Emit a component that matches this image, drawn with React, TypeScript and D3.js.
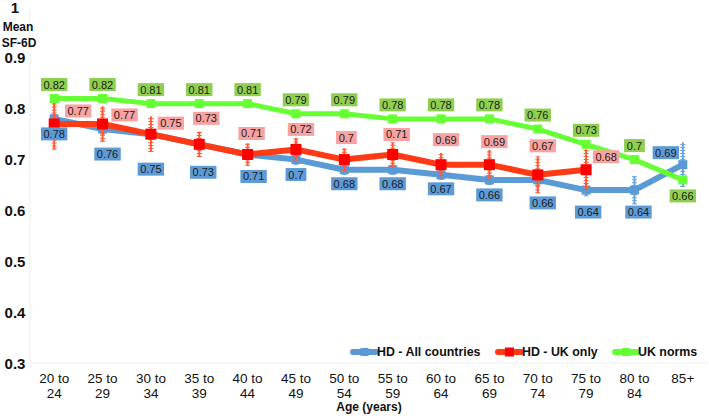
import React from "react";
import * as d3 from "d3";

const categories = ["20 to|24","25 to|29","30 to|34","35 to|39","40 to|44","45 to|49","50 to|54","55 to|59","60 to|64","65 to|69","70 to|74","75 to|79","80 to|84","85+"];
const hdAll = [0.78,0.76,0.75,0.73,0.71,0.70,0.68,0.68,0.67,0.66,0.66,0.64,0.64,0.69];
const hdAllErr = [0.01,0.01,0.01,0.01,0.01,0.01,0.01,0.01,0.01,0.01,0.012,0.012,0.028,0.044];
const hdUk: (number|null)[] = [0.77,0.77,0.75,0.73,0.71,0.72,0.70,0.71,0.69,0.69,0.67,0.68,null,null];
const hdUkErr = [0.05,0.035,0.035,0.025,0.022,0.022,0.022,0.024,0.023,0.029,0.036,0.04];
const ukNorms = [0.82,0.82,0.81,0.81,0.81,0.79,0.79,0.78,0.78,0.78,0.76,0.73,0.70,0.66];
const yTicks = [0.3,0.4,0.5,0.6,0.7,0.8,0.9,1];

// label nudges (layout only, in px)
const blueNudge = [[0,15],[5,25],[0,35],[4,28],[6,22],[0,15],[0,14],[0,14],[0,14],[0,15],[5,23],[2,22],[4,22],[-17,-12]];
const redNudge = [[24,-13],[22,-9],[20,-11],[7,-26],[4,-21],[5,-20],[2,-22],[4,-20],[5,-25],[5,-23],[5,-29],[20,-13]];
const greenNudge = [[0,-14],[0,-14],[0,-14],[0,-14],[0,-14],[0,-14],[0,-14],[0,-14],[0,-14],[0,-14],[0,-14],[0,-14],[0,-14],[0,16]];

const W = 709, H = 419;
const FONT = "'Liberation Sans', Arial, sans-serif";
const BLUE = "#5b9bd5", RED_LINE = "#ff3a14", RED_MK = "#ff0000", GREEN = "#66ff33";
const RED_ERR = "#ff5a36", BLUE_ERR = "#6aa5dc";
const BLUE_BOX = "#5e9bd6", RED_BOX = "#f8a2a2", GREEN_BOX = "#8fcf4f";

function fmt(v: number) { return String(+v.toFixed(2)); }

function Label({ x, y, v, fill }: { x: number; y: number; v: number; fill: string }) {
  const t = fmt(v);
  const w = t.length * 5.6 + 4;
  return (
    <g>
      <rect x={x - w / 2} y={y - 6.5} width={w} height={13} fill={fill} />
      <text x={x} y={y} textAnchor="middle" dominantBaseline="central" fontSize={11} fill="#1c1c1c" fontFamily={FONT}>{t}</text>
    </g>
  );
}

function ErrBar({ x, y1, y2, color }: { x: number; y1: number; y2: number; color: string }) {
  return (
    <g>
      <line x1={x} x2={x} y1={y1} y2={y2} stroke={color} strokeWidth={2} />
      <line x1={x} x2={x} y1={y1} y2={y2} stroke={color} strokeWidth={5} strokeDasharray="1 2" />
    </g>
  );
}

export default function App() {
  const x = d3.scaleBand<string>().domain(categories).range([30, 707]);
  const cx = (i: number) => (x(categories[i]) as number) + x.bandwidth() / 2;
  const y = d3.scaleLinear().domain([0.3, 1]).range([363, 7]);

  const line = d3.line<[number, number]>().x(d => d[0]).y(d => d[1]);
  const bluePts: [number, number][] = hdAll.map((v, i) => [cx(i), y(v)]);
  const redPts: [number, number][] = hdUk.flatMap((v, i) => (v == null ? [] : [[cx(i), y(v)] as [number, number]]));
  const greenPts: [number, number][] = ukNorms.map((v, i) => [cx(i), y(v)]);

  const legend = [
    { x0: 353, x1: 376, label: "HD - All countries", color: BLUE, mk: BLUE, ms: 8 },
    { x0: 498, x1: 521, label: "HD - UK only", color: RED_LINE, mk: RED_MK, ms: 9 },
    { x0: 615, x1: 637, label: "UK norms", color: GREEN, mk: GREEN, ms: 8 },
  ];

  return (
    <svg width={W} height={H} style={{ position: "fixed", left: 0, top: 0, background: "#fff" }} fontFamily={FONT}>
      <rect width={W} height={H} fill="#fff" />
      {/* axes */}
      <line x1={30} x2={30} y1={7} y2={363} stroke="#eeeeee" strokeWidth={1} />
      <line x1={30} x2={707} y1={363} y2={363} stroke="#eeeeee" strokeWidth={1} />
      {yTicks.map(t => (
        <text key={t} x={15} y={y(t)} textAnchor="middle" dominantBaseline="central" fontSize={15} fontWeight="bold" fill="#111">{fmt(t)}</text>
      ))}
      <text x={18} y={27} textAnchor="middle" dominantBaseline="central" fontSize={12} fontWeight="bold" fill="#111">Mean</text>
      <text x={19} y={43} textAnchor="middle" dominantBaseline="central" fontSize={12} fontWeight="bold" fill="#111">SF-6D</text>
      {categories.map((c, i) => {
        const parts = c.split("|");
        return (
          <text key={c} x={cx(i)} textAnchor="middle" fontSize={13.5} fill="#111">
            {parts.map((p, j) => (
              <tspan key={j} x={cx(i)} y={383 + j * 15}>{p}</tspan>
            ))}
          </text>
        );
      })}
      <text x={369} y={411} textAnchor="middle" fontSize={12} fontWeight="bold" fill="#111">Age (years)</text>

      {/* blue series */}
      {hdAll.map((v, i) => (
        <ErrBar key={"be" + i} x={cx(i)} y1={y(v - hdAllErr[i])} y2={y(v + hdAllErr[i])} color={BLUE_ERR} />
      ))}
      <path d={line(bluePts) || ""} fill="none" stroke={BLUE} strokeWidth={6} strokeLinejoin="round" />
      {bluePts.map((p, i) => (
        <rect key={"bm" + i} x={p[0] - 4.5} y={p[1] - 4.5} width={9} height={9} fill={BLUE} />
      ))}

      {/* red series */}
      {hdUk.map((v, i) => v == null ? null : (
        <ErrBar key={"re" + i} x={cx(i)} y1={y(v - hdUkErr[i])} y2={y(v + hdUkErr[i])} color={RED_ERR} />
      ))}
      <path d={line(redPts) || ""} fill="none" stroke={RED_LINE} strokeWidth={6} strokeLinejoin="round" />
      {redPts.map((p, i) => (
        <rect key={"rm" + i} x={p[0] - 5.5} y={p[1] - 5.5} width={11} height={11} fill={RED_MK} />
      ))}

      {/* green series */}
      <path d={line(greenPts) || ""} fill="none" stroke={GREEN} strokeWidth={5} strokeLinejoin="round" />
      {greenPts.map((p, i) => (
        <rect key={"gm" + i} x={p[0] - 4.5} y={p[1] - 4.5} width={9} height={9} fill={GREEN} />
      ))}

      {/* labels */}
      {hdAll.map((v, i) => (
        <Label key={"bl" + i} x={cx(i) + blueNudge[i][0]} y={y(v) + blueNudge[i][1]} v={v} fill={BLUE_BOX} />
      ))}
      {hdUk.map((v, i) => v == null ? null : (
        <Label key={"rl" + i} x={cx(i) + redNudge[i][0]} y={y(v) + redNudge[i][1]} v={v} fill={RED_BOX} />
      ))}
      {ukNorms.map((v, i) => (
        <Label key={"gl" + i} x={cx(i) + greenNudge[i][0]} y={y(v) + greenNudge[i][1]} v={v} fill={GREEN_BOX} />
      ))}

      {/* legend */}
      {legend.map(l => (
        <g key={l.label}>
          <line x1={l.x0} x2={l.x1} y1={352} y2={352} stroke={l.color} strokeWidth={6} strokeLinecap="round" />
          <rect x={(l.x0 + l.x1) / 2 - l.ms / 2} y={352 - l.ms / 2} width={l.ms} height={l.ms} fill={l.mk} />
          <text x={l.x1 + 1} y={352} dominantBaseline="central" fontSize={12.4} fontWeight="bold" fill="#111">{l.label}</text>
        </g>
      ))}
    </svg>
  );
}
